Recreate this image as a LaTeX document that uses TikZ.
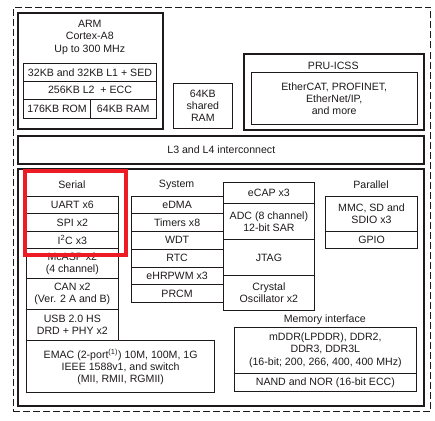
\documentclass[tikz,border=0pt]{standalone}
\usepackage{fontspec}
\setmainfont{Liberation Sans}
\definecolor{ink}{RGB}{30,26,27}
\definecolor{markred}{RGB}{237,28,36}

\begin{document}
\begin{tikzpicture}[x=1pt, y=-1pt, font=\fontsize{10.6}{12.2}\selectfont, text=ink,
        cell/.style={draw=ink, line width=1pt, anchor=north west, inner sep=0pt, align=center},
        frame/.style={draw=ink, line width=2pt, anchor=north west, inner sep=0pt, align=center},
        heading/.style={inner sep=0pt, align=center}]
            \useasboundingbox (0,0) rectangle (435,420);

            % outer boundary
            \node [draw=ink, line width=1.4pt, dash pattern=on 7pt off 3pt, anchor=north west,
                minimum width=417.3pt, minimum height=403.8pt] (soc) at (12.7,6.7) {};

            % processor and memories
            \node [frame, minimum width=145pt, minimum height=115.4pt] (arm) at (17.3,12.3) {};
            \node [heading] (armname) at (89.8,37.3) {ARM\\Cortex-A8\\Up to 300 MHz};
            \node [cell, minimum width=132.4pt, minimum height=17.4pt] (l1) at (23.3,63.3) {32KB and 32KB L1 + SED};
            \node [cell, minimum width=132.4pt, minimum height=18pt] (l2) at (23.3,80.7) {256KB L2\ \ + ECC};
            \node [cell, minimum width=66.4pt, minimum height=19.3pt] (rom) at (23.3,98.7) {176KB ROM};
            \node [cell, minimum width=66pt, minimum height=19.3pt] (ram) at (89.7,98.7) {64KB RAM};
            \node [cell, minimum width=58.7pt, minimum height=44.4pt] (shared) at (173,83.3) {64KB\\shared\\RAM};

            \node [frame, minimum width=180pt, minimum height=76.3pt] (pru) at (243.3,52.7) {};
            \node [heading] (pruname) at (333.3,65.7) {PRU-ICSS};
            \node [cell, minimum width=166pt, minimum height=51.7pt] (fieldbus) at (250.7,72.3)
                {EtherCAT, PROFINET,\\EtherNet/IP,\\and more};

            \node [frame, minimum width=406pt, minimum height=27.7pt] (l3l4) at (17.3,135) {L3 and L4 interconnect};

            % peripherals
            \node [frame, minimum width=406pt, minimum height=236.7pt] (periph) at (17.3,168.3) {};

            \node [heading] (serial) at (71.9,185) {Serial};
            \node [cell, minimum width=91.7pt, minimum height=17.6pt] (uart) at (26,195.7) {UART x6};
            \node [cell, minimum width=91.7pt, minimum height=17.4pt] (spi) at (26,213.3) {SPI x2};
            \node [cell, minimum width=91.7pt, minimum height=17.6pt] (i2c) at (26,230.7) {I\textsuperscript{2}C x3};
            \node [cell, minimum width=91.7pt, minimum height=30pt] (mcasp) at (26,248.3) {McASP x2\\(4 channel)};
            \node [cell, minimum width=91.7pt, minimum height=30.7pt] (can) at (26,278.3) {CAN x2\\(Ver. 2 A and B)};
            \node [cell, minimum width=91.7pt, minimum height=31pt] (usb) at (26,309) {USB 2.0 HS\\DRD + PHY x2};
            \node [cell, minimum width=188.3pt, minimum height=52.3pt] (emac) at (26,340)
                {EMAC (2-port\textsuperscript{(1)}) 10M, 100M, 1G\\IEEE 1588v1, and switch\\(MII, RMII, RGMII)};

            \node [heading] (system) at (176.6,185) {System};
            \node [cell, minimum width=91.8pt, minimum height=17.3pt] (edma) at (130.7,196) {eDMA};
            \node [cell, minimum width=91.8pt, minimum height=17.4pt] (timers) at (130.7,213.3) {Timers x8};
            \node [cell, minimum width=91.8pt, minimum height=17.8pt] (wdt) at (130.7,230.7) {WDT};
            \node [cell, minimum width=91.8pt, minimum height=18.2pt] (rtc) at (130.7,248.5) {RTC};
            \node [cell, minimum width=91.8pt, minimum height=17.3pt] (pwm) at (130.7,266.7) {eHRPWM x3};
            \node [cell, minimum width=91.8pt, minimum height=18.3pt] (prcm) at (130.7,284) {PRCM};

            \node [cell, minimum width=91.8pt, minimum height=21pt] (ecap) at (222.5,182.3) {eCAP x3};
            \node [cell, minimum width=91.8pt, minimum height=35.7pt] (adc) at (222.5,203.3) {ADC (8 channel)\\12-bit SAR};
            \node [cell, minimum width=91.8pt, minimum height=36pt] (jtag) at (222.5,239) {JTAG};
            \node [cell, minimum width=91.8pt, minimum height=35pt] (osc) at (222.5,275) {Crystal\\Oscillator x2};

            \node [heading] (parallel) at (371,185) {Parallel};
            \node [cell, minimum width=92pt, minimum height=35pt] (mmc) at (325,195.7) {MMC, SD and\\SDIO x3};
            \node [cell, minimum width=92pt, minimum height=17.6pt] (gpio) at (325,230.7) {GPIO};

            \node [heading] (memif) at (324.8,319.3) {Memory interface};
            \node [cell, minimum width=181.7pt, minimum height=46pt] (ddr) at (234,326.7)
                {mDDR(LPDDR), DDR2,\\DDR3, DDR3L\\(16-bit; 200, 266, 400, 400 MHz)};
            \node [cell, minimum width=181.7pt, minimum height=18.3pt] (nand) at (234,372.7) {NAND and NOR (16-bit ECC)};

            % highlight
            \node [draw=markred, line width=4pt, anchor=north west, inner sep=0pt,
                minimum width=100.7pt, minimum height=84.3pt] (mark) at (23.3,169) {};
        \end{tikzpicture}
\end{document}
